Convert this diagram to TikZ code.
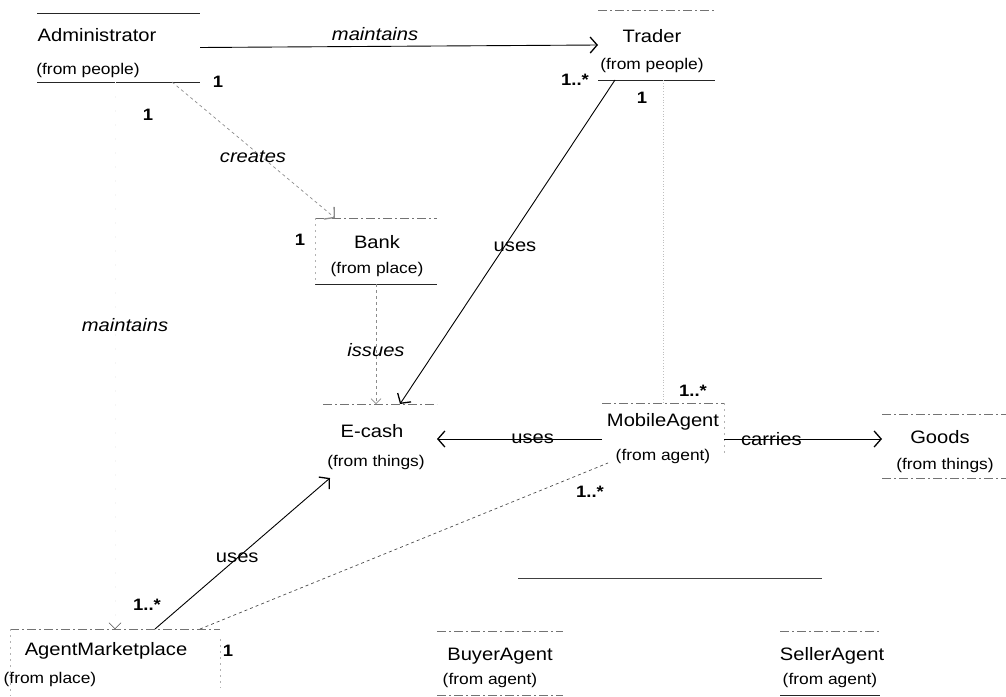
\documentclass[tikz,border=0pt]{standalone}
\usepackage{fontspec}
\setmainfont[FakeStretch=1.12]{Liberation Sans}
\usetikzlibrary{arrows.meta}
\tikzset{
    cls/.style={inner sep=0pt,outer sep=0pt},
    edge/.style={line width=0.8pt,black!55,dash pattern=on 9pt off 3pt on 2pt off 3pt},
    edgeS/.style={line width=1pt,black!85},
    side/.style={line width=0.6pt,black!30,dash pattern=on 2pt off 4pt},
    cname/.style={font=\fontsize{18}{20}\selectfont},
    cfrom/.style={font=\fontsize{15.5}{17}\selectfont},
    lbl/.style={font=\fontsize{18}{20}\selectfont},
    rel/.style={font=\fontsize{18}{20}\selectfont\itshape},
    mult/.style={font=\fontsize{16.5}{18}\selectfont\bfseries},
    link/.style={line width=0.9pt},
    faint/.style={line width=0.7pt,black!45,dash pattern=on 3pt off 3pt},
    tip/.style={-{Straight Barb[length=7pt,width=16pt,line width=1.3pt]}},
}
\begin{document}
\begin{tikzpicture}[x=1pt,y=-1pt]
    \useasboundingbox (0,0) rectangle (1006,696);
    % classes
    \node[cls,minimum width=163pt,minimum height=69pt] (adm) at (118.5,47.5) {};
    \node[cls,minimum width=117pt,minimum height=70pt] (trd) at (656.5,45) {};
    \node[cls,minimum width=122pt,minimum height=66pt] (bnk) at (376,251) {};
    \node[cls,minimum width=114pt,minimum height=74pt] (ecs) at (380,441) {};
    \node[cls,minimum width=122pt,minimum height=72pt] (mob) at (663,439) {};
    \node[cls,minimum width=124pt,minimum height=64pt] (gds) at (944,446) {};
    \node[cls,minimum width=210pt,minimum height=67pt] (amp) at (115,662.5) {};
    \node[cls,minimum width=126pt,minimum height=64pt] (buy) at (500,663) {};
    \node[cls,minimum width=100pt,minimum height=64pt] (sel) at (830,663) {};
    \foreach \b in {adm,trd,bnk,ecs,mob,gds,amp,buy,sel}
        \draw[edge] (\b.north west) -- (\b.north east);
    \foreach \b in {gds,buy}
        \draw[edge] (\b.south west) -- (\b.south east);
    \foreach \b in {adm,trd,bnk,sel}
        \draw[edgeS] (\b.south west) -- (\b.south east);
    \draw[edgeS] (adm.north west) -- (adm.north east);
    \draw[side] (bnk.north west) -- (bnk.south west);
    \draw[side] (mob.north east) -- ([yshift=-15pt]mob.east);
    \draw[side] (gds.north east) -- (gds.south east);
    \draw[side] (amp.north west) -- (amp.south west);
    \draw[side] ([yshift=-10pt]amp.north east) -- ([yshift=-25pt]amp.east);

    \node[cname] (admN) at (97,35) {Administrator};
    \node[cfrom] (admF) at (88,70) {(from people)};
    \node[cname] (trdN) at (652,36) {Trader};
    \node[cfrom] (trdF) at (652,65) {(from people)};
    \node[cname] (bnkN) at (377,242) {Bank};
    \node[cfrom] (bnkF) at (377,269) {(from place)};
    \node[cname] (ecsN) at (372,431) {E-cash};
    \node[cfrom] (ecsF) at (376,462) {(from things)};
    \node[cname] (mobN) at (663,422) {MobileAgent};
    \node[cfrom] (mobF) at (663,456) {(from agent)};
    \node[cname] (gdsN) at (940,437) {Goods};
    \node[cfrom] (gdsF) at (945,465) {(from things)};
    \node[cname] (ampN) at (106,651) {AgentMarketplace};
    \node[cfrom] (ampF) at (50,679) {(from place)};
    \node[cname] (buyN) at (500,656) {BuyerAgent};
    \node[cfrom] (buyF) at (490,680) {(from agent)};
    \node[cname] (selN) at (832,656) {SellerAgent};
    \node[cfrom] (selF) at (830,680) {(from agent)};

    % relations
    \draw[link,tip] (adm.east) -- (trd.west)
        node[rel,pos=0.44,above=2pt] (mntA) {maintains};
    \draw[faint,tip] ([xshift=-28pt]adm.south east) -- ([xshift=20pt]bnk.north west);
    \node[rel] (crt) at (253,157) {creates};
    \draw[link,tip] ([xshift=17pt]trd.south west) -- ([xshift=77pt]ecs.north west);
    \node[lbl] (usT) at (515,247) {uses};
    \draw[faint,-{Straight Barb[length=5pt,width=10pt]}] (bnk.south) -- (bnk.south |- ecs.north);
    \node[rel] (iss) at (376,350) {issues};
    \draw[link,tip] (mob.west) -- (mob.west -| ecs.east)
        node[lbl,pos=0.42] (usM) {uses};
    \draw[link,tip] (mob.east) -- (mob.east -| gds.west)
        node[lbl,pos=0.3] (car) {carries};
    \draw[link,tip] ([xshift=145pt]amp.north west) -- ([xshift=7pt]ecs.south west)
        node[lbl,pos=0.47] (usA) {uses};
    \draw[line width=0.7pt,black!70,dash pattern=on 3pt off 3pt] ([xshift=190pt]amp.north west) -- ([xshift=6pt,yshift=12pt]mob.south west);
    \draw[black!4,dash pattern=on 2pt off 12pt,-{Straight Barb[length=6pt,width=12pt,black!70]}] (adm.south -| amp.north) -- (amp.north);
    \node[rel] (mntB) at (125,325) {maintains};
    \draw[black!25,line width=0.8pt,dotted] (mob.north |- trd.south) -- (mob.north);
    \draw[line width=0.9pt,black!75] (518,578) -- (822,578);

    % multiplicities
    \node[mult] (m1) at (218,82) {1};
    \node[mult] (m2) at (148,115) {1};
    \node[mult] (m3) at (575,80) {1..*};
    \node[mult] (m4) at (642,98) {1};
    \node[mult] (m5) at (300,240) {1};
    \node[mult] (m6) at (693,391) {1..*};
    \node[mult] (m7) at (590,492) {1..*};
    \node[mult] (m8) at (147,605) {1..*};
    \node[mult] (m9) at (228,651) {1};
\end{tikzpicture}
\end{document}
